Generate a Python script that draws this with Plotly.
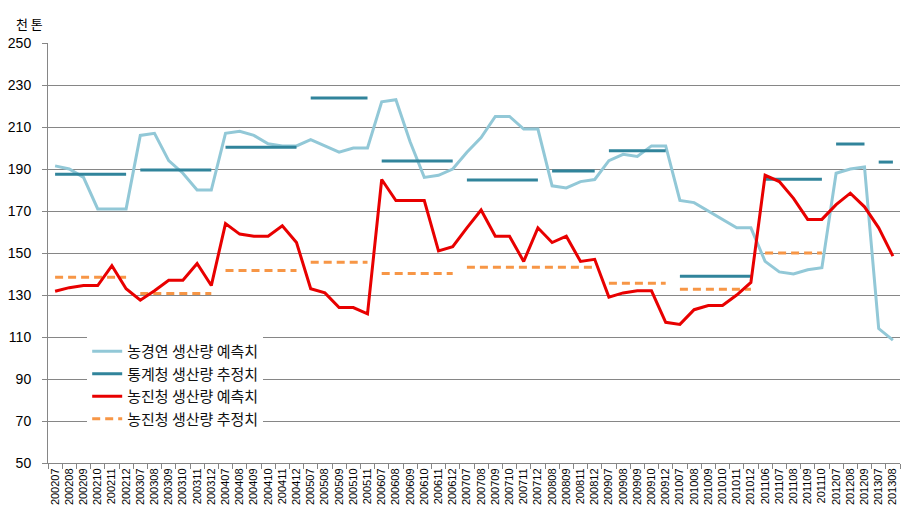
import plotly.graph_objects as go

categories = [
    "200207", "200208", "200209", "200210", "200211", "200212",
    "200307", "200308", "200309", "200310", "200311", "200312",
    "200407", "200408", "200409", "200410", "200411", "200412",
    "200507", "200508", "200509", "200510", "200511",
    "200607", "200608", "200609", "200610", "200611", "200612",
    "200707", "200708", "200709", "200710", "200711", "200712",
    "200808", "200809", "200811", "200812",
    "200907", "200908", "200909", "200910", "200912",
    "201007", "201008", "201009", "201010", "201011", "201012",
    "201106", "201107", "201108", "201109", "201110",
    "201207", "201208", "201209",
    "201307", "201308",
]

# 농경연 생산량 예측치
krei_forecast = [
    191.5, 190, 186, 171, 171, 171,
    206, 207, 194, 188, 180, 180,
    207, 208, 206, 202, 201, 201,
    204, 201, 198, 200, 200,
    222, 223, 203, 186, 187, 190,
    198, 205, 215, 215, 209, 209,
    182, 181, 184, 185,
    194, 197, 196, 201, 201,
    175, 174, 170, 166, 162, 162,
    146, 141, 140, 142, 143,
    188, 190, 191,
    114, 108.5,
]

# 농진청 생산량 예측치
rda_forecast = [
    131.8, 133.5, 134.5, 134.5, 144, 133,
    127.5, 132, 137, 137, 145, 134.5,
    164, 159, 158, 158, 163, 155,
    133, 131, 124, 124, 121,
    185, 175, 175, 175, 151, 153,
    162, 170.5, 158, 158, 146, 162,
    155, 158, 146, 147,
    129, 131, 132, 132, 117,
    116, 123, 125, 125, 130, 136,
    187, 184, 176, 166, 166,
    173, 178.5, 172,
    162, 148.5,
]

# 통계청 생산량 추정치 (one value per year)
stat_years = ["2002", "2003", "2004", "2005", "2006", "2007", "2008",
              "2009", "2010", "2011", "2012", "2013"]
stat_values = [187.5, 189.5, 200.4, 223.8, 193.8, 184.8, 189.0,
               198.7, 138.9, 185.1, 201.9, 193.3]

# 농진청 생산량 추정치 (one value per year group)
rda_est_groups = [["2002"], ["2003"], ["2004"], ["2005"], ["2006"],
                  ["2007", "2008"], ["2009"], ["2010"], ["2011"]]
rda_est_values = [138.5, 130.7, 141.7, 145.6, 140.2, 143.2, 135.6, 132.7, 150.0]

y_ticks = [50, 70, 90, 110, 130, 150, 170, 190, 210, 230, 250]

LIGHT = "#92C8D7"
TEAL = "#31849B"
RED = "#E80000"
ORANGE = "#F79646"

fig = go.Figure()

fig.add_trace(go.Scatter(
    x=categories, y=krei_forecast, mode="lines",
    line=dict(color=LIGHT, width=3),
    name="농경연 생산량 예측치", legendrank=1,
))

for i, (yr, val) in enumerate(zip(stat_years, stat_values)):
    xs = [c for c in categories if c[:4] == yr]
    fig.add_trace(go.Scatter(
        x=xs, y=[val] * len(xs), mode="lines",
        line=dict(color=TEAL, width=3),
        name="통계청 생산량 추정치", legendgroup="stat",
        showlegend=(i == 0), legendrank=2,
    ))

for i, (yrs, val) in enumerate(zip(rda_est_groups, rda_est_values)):
    xs = [c for c in categories if c[:4] in yrs]
    fig.add_trace(go.Scatter(
        x=xs, y=[val] * len(xs), mode="lines",
        line=dict(color=ORANGE, width=3, dash="8px,5px"),
        name="농진청 생산량 추정치", legendgroup="rdaest",
        showlegend=(i == 0), legendrank=4,
    ))

fig.add_trace(go.Scatter(
    x=categories, y=rda_forecast, mode="lines",
    line=dict(color=RED, width=3),
    name="농진청 생산량 예측치", legendrank=3,
))

fig.update_layout(
    width=908, height=517,
    margin=dict(l=45, r=8, t=43, b=54),
    paper_bgcolor="white", plot_bgcolor="white",
    font=dict(family="Liberation Sans, Noto Sans CJK KR", color="black"),
    legend=dict(
        x=0.046, y=0.305, xanchor="left", yanchor="top",
        bgcolor="white", borderwidth=0,
        font=dict(family="Noto Sans CJK KR", size=15, color="#111"),
        tracegroupgap=0, itemwidth=30,
    ),
    xaxis=dict(
        type="category", categoryorder="array", categoryarray=categories,
        tickangle=-90, tickfont=dict(size=11, family="Liberation Sans"),
        showgrid=False, showline=True, linecolor="#868686", linewidth=1,
        ticks="outside", tickson="boundaries", ticklen=5, tickcolor="#868686",
        range=[-0.5, len(categories) - 0.5],
    ),
    yaxis=dict(
        range=[50, 250], tickvals=y_ticks,
        tickfont=dict(size=14, family="Liberation Sans"),
        ticklabelstandoff=8,
        showgrid=True, gridcolor="#868686", gridwidth=1,
        showline=True, linecolor="#868686", linewidth=1,
        ticks="outside", ticklen=5, tickcolor="#868686",
        zeroline=False,
    ),
    annotations=[dict(
        text="천 톤", xref="paper", yref="paper", x=-0.04, y=1.0,
        xanchor="left", yanchor="bottom", yshift=8, showarrow=False,
        font=dict(family="Noto Sans CJK KR", size=13, color="black"),
    )],
)

fig.write_html("out.html")
